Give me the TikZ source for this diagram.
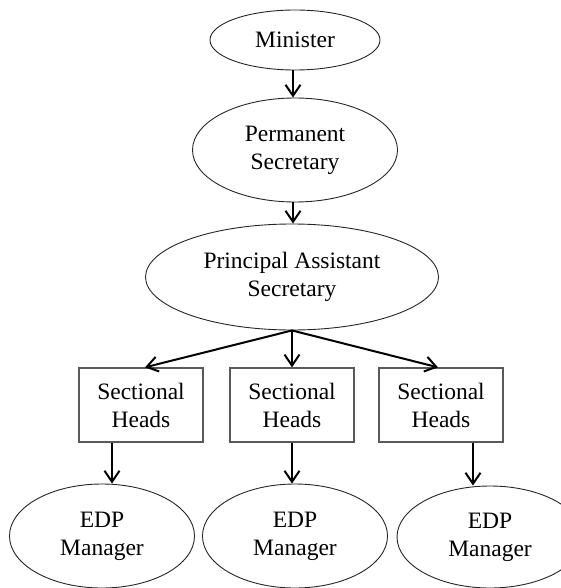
\documentclass[tikz,border=0pt]{standalone}
\usepackage{fontspec}
\setmainfont{Liberation Serif}
\usetikzlibrary{shapes.geometric,arrows.meta}
\begin{document}
\begin{tikzpicture}[x=1pt,y=-1pt,
  every node/.style={font=\fontsize{23.5}{28}\selectfont, align=center, inner sep=0pt},
  oval/.style={ellipse, draw=black!85, line width=0.9pt},
  box/.style={rectangle, draw=black!65, line width=1.3pt, minimum width=124pt, minimum height=74pt},
  arr/.style={line width=2pt, -{Straight Barb[length=11pt,width=15pt]}}]
\useasboundingbox (0,0) rectangle (561,588);
\clip (0,0) rectangle (561,588);
\node[oval, minimum width=170pt, minimum height=60pt] (min) at (295,40) {Minister};
\node[oval, minimum width=205pt, minimum height=104pt] (ps) at (295,150) {Permanent\\Secretary};
\node[oval, minimum width=293pt, minimum height=106pt] (pas) at (292,277) {Principal Assistant\\Secretary};
\node[box] (sh1) at (141,405) {Sectional\\Heads};
\node[box] (sh2) at (292,405) {Sectional\\Heads};
\node[box] (sh3) at (441,405) {Sectional\\Heads};
\node[oval, minimum width=185pt, minimum height=104pt] (e1) at (102,536) {EDP\\Manager};
\node[oval, minimum width=185pt, minimum height=104pt] (e2) at (295,536) {EDP\\Manager};
\node[oval, minimum width=186pt, minimum height=102pt] (e3) at (490,537) {EDP\\Manager};
\draw[arr] ([xshift=-2pt]min.south) -- ([xshift=-2pt]min.south |- ps.north);
\draw[arr] ([xshift=-2pt]ps.south) -- ([xshift=-2pt]ps.south |- pas.north);
\draw[arr] (pas.south) -- ([xshift=4pt]sh1.north);
\draw[arr] (pas.south) -- (sh2.north);
\draw[arr] (pas.south) -- ([xshift=-3pt]sh3.north);
\draw[arr] ([xshift=-29pt]sh1.south) -- ([xshift=-29pt]sh1.south |- e1.north);
\draw[arr] (sh2.south) -- (sh2.south |- e2.north);
\draw[arr] ([xshift=32pt]sh3.south) -- ([xshift=32pt]sh3.south |- e3.north);
\end{tikzpicture}
\end{document}
